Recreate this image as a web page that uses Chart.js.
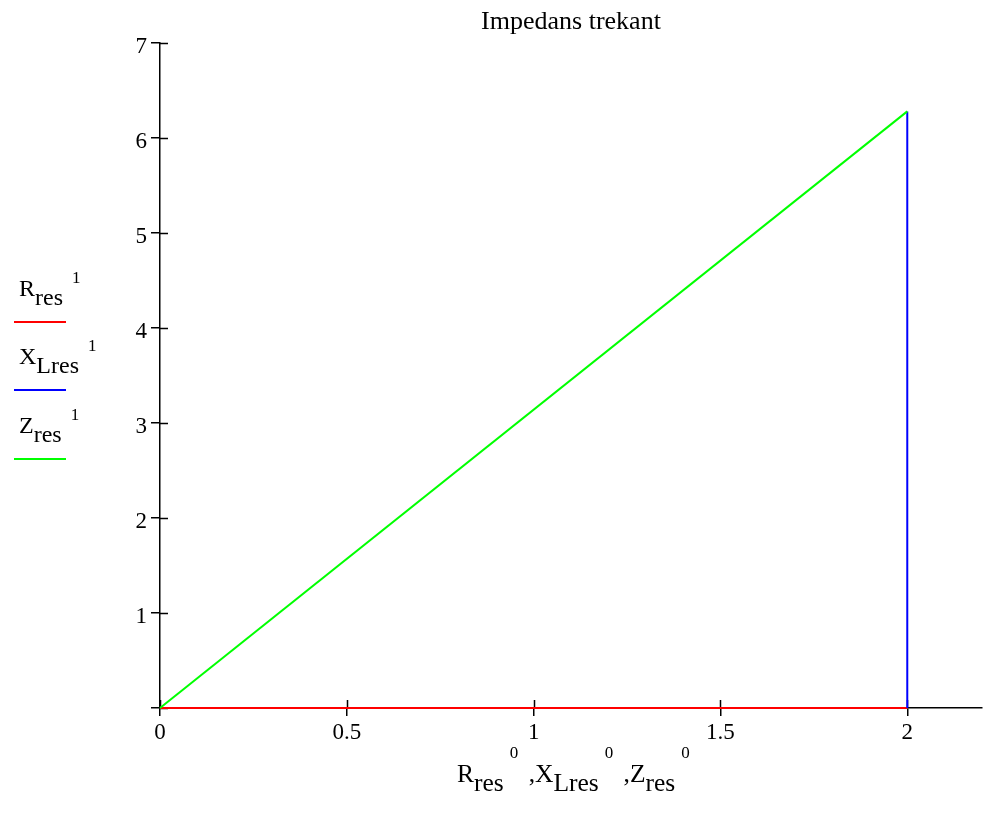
<!DOCTYPE html>
<html>
<head>
<meta charset="utf-8">
<script src="https://cdn.jsdelivr.net/npm/chart.js@4/dist/chart.umd.min.js"></script>
<style>
  html, body { margin: 0; padding: 0; background: #fff; }
  #wrap { position: relative; width: 984px; height: 820px; }
  #plot { position: absolute; left: 0; top: 0; }
  .txt { position: absolute; font-family: "Liberation Serif", serif; color: #000; white-space: nowrap; }
  .txt sub, .txt sup { position: relative; vertical-align: baseline; line-height: 0; }
  .leg { font-size: 24px; line-height: 24px; }
  .leg sub { font-size: 24px; top: 9px; }
  .leg sup { font-size: 17px; top: -13px; margin-left: 9px; }
  .xlab { font-size: 25.5px; line-height: 25.5px; }
  .xlab sub { font-size: 25.5px; top: 9px; }
  .xlab sup { font-size: 17px; top: -24px; margin-left: 6px; margin-right: 4px; }
  .swatch { position: absolute; left: 14px; width: 52px; height: 2px; }
</style>
</head>
<body>
<div id="wrap">
  <canvas id="plot" width="984" height="820"></canvas>

  <div class="txt leg" style="left:19px; top:276px;">R<sub>res</sub><sup>1</sup></div>
  <div class="swatch" style="top:321px; background:#ff0000;"></div>
  <div class="txt leg" style="left:19px; top:344px;">X<sub>Lres</sub><sup>1</sup></div>
  <div class="swatch" style="top:389px; background:#0000ff;"></div>
  <div class="txt leg" style="left:19px; top:413px;">Z<sub>res</sub><sup>1</sup></div>
  <div class="swatch" style="top:458px; background:#00ff00;"></div>

  <div class="txt xlab" style="left:457px; top:761px;">R<sub>res</sub><sup>0</sup> ,X<sub>Lres</sub><sup>0</sup> ,Z<sub>res</sub><sup>0</sup></div>
</div>

<script>
Chart.defaults.font.family = "'Liberation Serif', serif";
Chart.defaults.color = "#000";

// series (x = index 0 column, y = index 1 column)
const rResX = [0, 2];
const rResY = [0, 0];
const xLresX = [2, 2];
const xLresY = [0, 6.28];
const zResX = [0, 2];
const zResY = [0, 6.28];

const xTicks = [0, 0.5, 1, 1.5, 2];
const yTicks = [0, 1, 2, 3, 4, 5, 6, 7];

function toPoints(xs, ys) {
  return xs.map(function (x, i) {
    return { x: x, y: ys[i] };
  });
}

// Mathcad style ticks cross the axis, draw the inner half
const crossTicks = {
  id: "crossTicks",
  beforeDatasetsDraw(chart) {
    const ctx = chart.ctx;
    const xs = chart.scales.x;
    const ys = chart.scales.y;
    const area = chart.chartArea;
    ctx.save();
    ctx.strokeStyle = "#000";
    ctx.lineWidth = 1.5;
    ctx.beginPath();
    yTicks.forEach(function (v) {
      const py = Math.round(ys.getPixelForValue(v)) + 0.5;
      ctx.moveTo(area.left, py);
      ctx.lineTo(area.left + 8, py);
    });
    xTicks.forEach(function (v) {
      const px = Math.round(xs.getPixelForValue(v)) + 0.5;
      ctx.moveTo(px, area.bottom);
      ctx.lineTo(px, area.bottom - 8);
    });
    ctx.stroke();
    ctx.restore();
  }
};

const data = {
  datasets: [
    {
      label: "Zres",
      data: toPoints(zResX, zResY),
      borderColor: "#00ff00",
      borderWidth: 2,
      clip: false
    },
    {
      label: "XLres",
      data: toPoints(xLresX, xLresY),
      borderColor: "#0000ff",
      borderWidth: 2,
      clip: false
    },
    {
      label: "Rres",
      data: toPoints(rResX, rResY),
      borderColor: "#ff0000",
      borderWidth: 2,
      clip: false
    }
  ]
};

const config = {
  type: "scatter",
  data,
  options: {
    responsive: false,
    animation: false,
    showLine: true,
    elements: {
      point: { radius: 0, hoverRadius: 0 },
      line: { tension: 0, fill: false }
    },
    layout: {
      padding: { left: 0, right: 2, top: 0, bottom: 0 }
    },
    plugins: {
      legend: { display: false },
      tooltip: { enabled: false },
      title: {
        display: true,
        text: "Impedans trekant",
        fullSize: false,
        color: "#000",
        font: { size: 26, weight: "normal" },
        padding: { top: 6.7, bottom: 5.1 }
      }
    },
    scales: {
      x: {
        type: "linear",
        min: 0,
        max: 2.2,
        afterFit: function (scale) {
          scale.height = 112;
          scale.paddingLeft = 0;
          scale.paddingRight = 0;
        },
        afterBuildTicks: function (scale) {
          scale.ticks = xTicks.map(function (v) { return { value: v }; });
        },
        border: { color: "#000", width: 1.5 },
        grid: { drawOnChartArea: false, drawTicks: true, tickLength: 8, color: "#000", lineWidth: 1.5 },
        ticks: {
          font: { size: 23 },
          padding: 3,
          maxRotation: 0,
          callback: function (val) {
            return String(val);
          }
        }
      },
      y: {
        type: "linear",
        min: 0,
        max: 7,
        afterFit: function (scale) {
          scale.width = 160;
        },
        afterBuildTicks: function (scale) {
          scale.ticks = yTicks.map(function (v) { return { value: v }; });
        },
        border: { color: "#000", width: 1.5 },
        grid: { drawOnChartArea: false, drawTicks: true, tickLength: 9, color: "#000", lineWidth: 1.5 },
        ticks: {
          font: { size: 23 },
          padding: 4,
          labelOffset: 4,
          callback: function (val) {
            return val === 0 ? "" : String(val);
          }
        }
      }
    }
  },
  plugins: [crossTicks]
};

new Chart(document.getElementById("plot").getContext("2d"), config);
</script>
</body>
</html>
